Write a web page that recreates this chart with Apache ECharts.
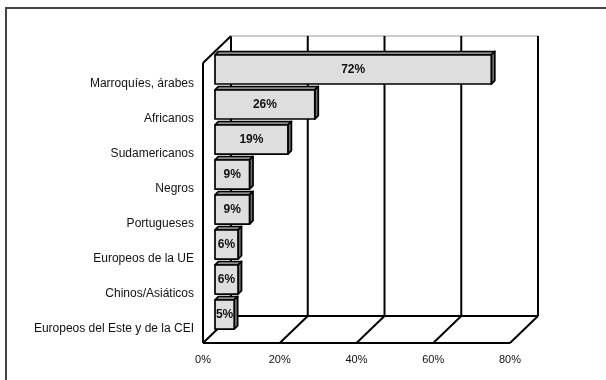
<!DOCTYPE html>
<html lang="es">
<head>
  <meta charset="UTF-8">
  <title>Colectivos</title>
  <script src="https://cdn.jsdelivr.net/npm/echarts@6/dist/echarts.min.js"></script>
  <style>
    html, body { margin: 0; padding: 0; background: #fff; }
    #main { width: 606px; height: 380px; }
  </style>
</head>
<body>
  <div id="main"></div>
  <script type="text/javascript">
    var categories = ['Marroquíes, árabes', 'Africanos', 'Sudamericanos', 'Negros',
      'Portugueses', 'Europeos de la UE', 'Chinos/Asiáticos', 'Europeos del Este y de la CEI'];
    var values = [72, 26, 19, 9, 9, 6, 6, 5];
    var xTicks = [0, 20, 40, 60, 80];

    // 3d look: depth of the walls, and where the bars sit inside it
    var DX = 28, DY = -27;
    var FRONT = [12, -11], BACK = [15.5, -14.5];
    var FONT = 'Liberation Sans, Arial, sans-serif';

    var myChart = echarts.init(document.getElementById('main'));

    function line(x1, y1, x2, y2, color, w) {
      return {
        type: 'line',
        shape: { x1: x1, y1: y1, x2: x2, y2: y2 },
        style: { stroke: color || '#000', lineWidth: w || 2 }
      };
    }

    function renderWalls(params, api) {
      var cs = params.coordSys;
      var top = cs.y, bot = cs.y + cs.height, left = cs.x, right = cs.x + cs.width;
      var x = api.coord([api.value(0), 0])[0];
      var children = [
        line(x + DX, top + DY, x + DX, bot + DY),
        line(x, bot, x + DX, bot + DY)
      ];
      if (params.dataIndex === 0) {
        children.push(line(left, top, left, bot));
        children.push(line(left, top, left + DX, top + DY));
        children.push(line(left, bot, right, bot));
        children.push(line(left + DX, bot + DY, right + DX, bot + DY));
        children.push(line(left + DX, top + DY, right + DX, top + DY, '#999', 1));
      }
      return { type: 'group', children: children };
    }

    function renderBar(params, api) {
      var v = api.value(0), cat = api.value(1);
      var p0 = api.coord([0, cat]);
      var p1 = api.coord([v, cat]);
      var h = api.size([0, 1])[1] * 0.83;
      var x0 = p0[0] + FRONT[0], x1 = p1[0] + FRONT[0];
      var yc = p0[1] + FRONT[1];
      var t = yc - h / 2, b = yc + h / 2;
      var ddx = BACK[0] - FRONT[0], ddy = BACK[1] - FRONT[1];
      var edge = { stroke: '#000', lineWidth: 1.7, lineJoin: 'round' };
      return {
        type: 'group',
        children: [
          {
            type: 'polygon',
            shape: { points: [[x0, t], [x1, t], [x1 + ddx, t + ddy], [x0 + ddx, t + ddy]] },
            style: Object.assign({ fill: '#8c8c8c' }, edge)
          },
          {
            type: 'polygon',
            shape: { points: [[x1, t], [x1 + ddx, t + ddy], [x1 + ddx, b + ddy], [x1, b]] },
            style: Object.assign({ fill: '#6e6e6e' }, edge)
          },
          {
            type: 'rect',
            shape: { x: x0, y: t, width: x1 - x0, height: h },
            style: Object.assign({ fill: '#dedede' }, edge)
          },
          {
            type: 'text',
            style: {
              text: v + '%',
              x: (x0 + x1) / 2,
              y: yc,
              align: 'center',
              verticalAlign: 'middle',
              font: 'bold 12px ' + FONT,
              fill: '#111'
            }
          }
        ]
      };
    }

    var option = {
      backgroundColor: '#fff',
      animation: false,
      grid: { left: 203, top: 63, width: 307, height: 280 },
      xAxis: {
        type: 'value',
        min: 0,
        max: 80,
        interval: 20,
        axisLine: { show: false },
        axisTick: { show: false },
        splitLine: { show: false },
        axisLabel: {
          formatter: '{value}%',
          margin: 11,
          fontSize: 11,
          fontFamily: FONT,
          color: '#111'
        }
      },
      yAxis: {
        type: 'category',
        inverse: true,
        data: categories,
        axisLine: { show: false },
        axisTick: { show: false },
        axisLabel: {
          margin: 9,
          formatter: function (v) { return '{a|' + v + '}'; },
          rich: {
            a: { fontSize: 12, fontFamily: FONT, color: '#111', padding: [6, 0, 0, 0] }
          }
        }
      },
      graphic: [{
        type: 'polyline',
        shape: { points: [[6, 380], [6, 8], [606, 8]] },
        style: { stroke: '#444', lineWidth: 2, fill: null }
      }],
      series: [
        {
          type: 'custom',
          clip: false,
          renderItem: renderWalls,
          encode: { x: 0, y: 1 },
          data: xTicks.map(function (t) { return [t, 0]; }),
          z: 1
        },
        {
          type: 'custom',
          clip: false,
          renderItem: renderBar,
          encode: { x: 0, y: 1 },
          data: values.map(function (v, i) { return [v, i]; }),
          z: 2
        }
      ]
    };

    myChart.setOption(option);
  </script>
</body>
</html>
